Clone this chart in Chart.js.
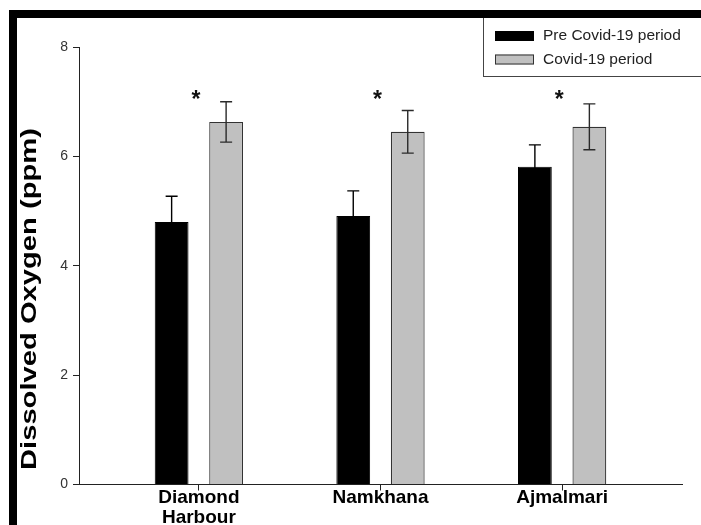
<!DOCTYPE html>
<html>
<head>
<meta charset="utf-8">
<title>Dissolved Oxygen</title>
<script src="https://cdn.jsdelivr.net/npm/chart.js@4/dist/chart.umd.min.js"></script>
<style>
  html, body { margin: 0; padding: 0; background: #ffffff; }
  #wrap { position: relative; width: 701px; height: 525px; }
</style>
</head>
<body>
<div id="wrap"><canvas id="c" width="701" height="525"></canvas></div>
<script>
// Sampling sites along the x axis
const sites = [['Diamond', 'Harbour'], 'Namkhana', 'Ajmalmari'];
// Mean dissolved oxygen (ppm) and standard error per site
const preCovid = [4.80, 4.91, 5.81];
const preCovidErr = [0.47, 0.46, 0.40];
const covid = [6.63, 6.45, 6.54];
const covidErr = [0.37, 0.39, 0.42];
// Significance marks between periods
const significance = ['*', '*', '*'];
const seriesNames = ['Pre Covid-19 period', 'Covid-19 period'];
const yTicks = [0, 2, 4, 6, 8];
const yTitle = 'Dissolved Oxygen (ppm)';

const FONT = "'Liberation Sans', Arial, Helvetica, sans-serif";
const AXIS_COLOR = '#222222';

const toPoints = arr => arr.map((v, i) => ({ x: i, y: v }));

// Whiskers for mean ± error
const errorBars = {
  id: 'errorBars',
  afterDatasetsDraw(chart) {
    const { ctx } = chart;
    const y = chart.scales.y;
    chart.data.datasets.forEach((ds, di) => {
      const meta = chart.getDatasetMeta(di);
      meta.data.forEach((bar, i) => {
        const v = ds.data[i].y, e = ds.errors[i];
        const top = y.getPixelForValue(v + e);
        const bot = y.getPixelForValue(v - e);
        const cap = 6;
        ctx.save();
        ctx.strokeStyle = ds.errorColor;
        ctx.lineWidth = 1.4;
        ctx.beginPath();
        ctx.moveTo(bar.x, top); ctx.lineTo(bar.x, bot);
        ctx.moveTo(bar.x - cap, top); ctx.lineTo(bar.x + cap, top);
        ctx.moveTo(bar.x - cap, bot); ctx.lineTo(bar.x + cap, bot);
        ctx.stroke();
        ctx.restore();
      });
    });
  }
};

// Asterisks above each site
const sigMarks = {
  id: 'sigMarks',
  afterDatasetsDraw(chart) {
    const { ctx } = chart;
    const xs = chart.scales.x, ys = chart.scales.y;
    ctx.save();
    ctx.fillStyle = '#111111';
    ctx.font = 'bold 23px ' + FONT;
    ctx.textAlign = 'center';
    ctx.textBaseline = 'alphabetic';
    significance.forEach((s, i) => {
      ctx.fillText(s, xs.getPixelForValue(i) - 3, ys.getPixelForValue(7.15) + 14);
    });
    ctx.restore();
  }
};

// Boxed legend in the upper right, the frame, and the y-axis title
const decorations = {
  id: 'decorations',
  afterDraw(chart) {
    const { ctx } = chart;
    ctx.save();

    // legend box
    const bx = 483.5, by = 17.5, bw = 230, bh = 59;
    ctx.fillStyle = '#ffffff';
    ctx.fillRect(bx, by, bw, bh);
    ctx.strokeStyle = '#444444';
    ctx.lineWidth = 1;
    ctx.strokeRect(bx, by, bw, bh);
    ctx.font = '15.5px ' + FONT;
    ctx.textAlign = 'left';
    ctx.textBaseline = 'middle';
    const rows = [36, 59.5];
    chart.data.datasets.forEach((ds, i) => {
      const cy = rows[i];
      ctx.fillStyle = ds.backgroundColor;
      ctx.fillRect(495, cy - 5, 39, 10);
      ctx.strokeStyle = ds.borderColor;
      ctx.strokeRect(495.5, cy - 4.5, 38, 9);
      ctx.fillStyle = '#222222';
      ctx.fillText(ds.label, 543, cy);
    });

    // frame bands along top and left
    ctx.fillStyle = '#000000';
    ctx.fillRect(9, 10, 692, 8);
    ctx.fillRect(9, 10, 8, 515);

    // y-axis title
    ctx.translate(30, 299);
    ctx.rotate(-Math.PI / 2);
    ctx.font = 'bold 22px ' + FONT;
    const w = ctx.measureText(yTitle).width;
    ctx.scale(342 / w, 1);
    ctx.fillStyle = '#000000';
    ctx.textAlign = 'center';
    ctx.textBaseline = 'middle';
    ctx.fillText(yTitle, 0, 0);
    ctx.restore();
  }
};

new Chart(document.getElementById('c'), {
  type: 'bar',
  data: {
    datasets: [
      {
        label: seriesNames[0],
        data: toPoints(preCovid),
        errors: preCovidErr,
        errorColor: '#000000',
        backgroundColor: '#000000',
        borderColor: '#000000',
        borderWidth: 1
      },
      {
        label: seriesNames[1],
        data: toPoints(covid),
        errors: covidErr,
        errorColor: '#2a2a2a',
        backgroundColor: '#c0c0c0',
        borderColor: '#333333',
        borderWidth: 1.2
      }
    ]
  },
  options: {
    responsive: false,
    animation: false,
    events: [],
    categoryPercentage: 0.6,
    barPercentage: 0.62,
    layout: { padding: { left: 0, right: 19, top: 47, bottom: 0 } },
    plugins: {
      legend: { display: false },
      tooltip: { enabled: false }
    },
    scales: {
      x: {
        type: 'linear',
        bounds: 'data',
        offset: false,
        min: -0.66,
        max: 2.66,
        afterBuildTicks: s => { s.ticks = sites.map((_, i) => ({ value: i })); },
        afterFit: s => { s.height = 40.5; },
        grid: { display: true, offset: false, drawOnChartArea: false, drawTicks: true, tickLength: 6, color: AXIS_COLOR },
        border: { display: true, color: AXIS_COLOR, width: 1 },
        ticks: {
          callback: v => sites[v],
          autoSkip: false,
          maxRotation: 0,
          padding: -3,
          color: '#000000',
          font: { family: FONT, size: 19, weight: 'bold', lineHeight: 1.05 }
        }
      },
      y: {
        min: 0,
        max: 8,
        afterBuildTicks: s => { s.ticks = yTicks.map(v => ({ value: v })); },
        afterFit: s => { s.width = 79; },
        grid: { display: true, drawOnChartArea: false, drawTicks: true, tickLength: 6, color: AXIS_COLOR },
        border: { display: true, color: AXIS_COLOR, width: 1 },
        ticks: {
          padding: 5,
          color: '#333333',
          font: { family: FONT, size: 14 }
        }
      }
    }
  },
  plugins: [errorBars, sigMarks, decorations]
});
</script>
</body>
</html>
